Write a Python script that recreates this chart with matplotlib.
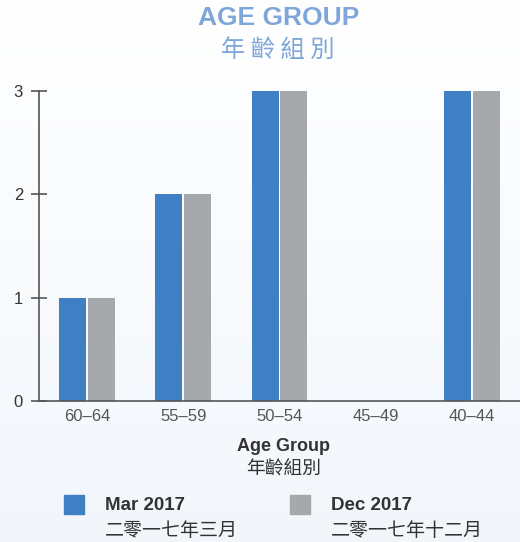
import numpy as np
import matplotlib.pyplot as plt

plt.rcParams['font.family'] = ['Liberation Sans', 'Noto Sans CJK TC', 'DejaVu Sans']

# data
groups = ['60–64', '55–59', '50–54', '45–49', '40–44']
mar_2017 = [1, 2, 3, 0, 3]
dec_2017 = [1, 2, 3, 0, 3]
series_en = ['Mar 2017', 'Dec 2017']
series_zh = ['二零一七年三月', '二零一七年十二月']

blue = '#3f7fc4'
grey = '#a7a8ab'
title_col = '#7fa6d9'
text_col = '#333333'

fig = plt.figure(figsize=(5.2, 5.42), dpi=100)

# soft background gradient, white at top to pale blue at bottom
bg = fig.add_axes([0, 0, 1, 1], zorder=-10)
grad = np.linspace(0, 1, 256).reshape(-1, 1)
top = np.array([1.0, 1.0, 1.0])
bot = np.array([0.95, 0.965, 0.985])
img = top + (bot - top) * grad[..., None]
bg.imshow(img, aspect='auto', extent=[0, 1, 0, 1], origin='upper')
bg.axis('off')

ax = fig.add_axes([0.075, 0.26, 0.925, 0.572])
ax.patch.set_alpha(0)

x = np.arange(len(groups))
w = 0.28
ax.bar(x - w / 2 - 0.01, mar_2017, width=w, color=blue)
ax.bar(x + w / 2 + 0.01, dec_2017, width=w, color=grey)

ax.set_xlim(-0.5, len(groups) - 0.5)
ax.set_ylim(0, 3)
ax.set_yticks([0, 1, 2, 3])
ax.set_xticks(x)
ax.set_xticklabels(groups)

for s in ['top', 'right']:
    ax.spines[s].set_visible(False)
for s in ['left', 'bottom']:
    ax.spines[s].set_color('#555555')
    ax.spines[s].set_linewidth(1.2)

ax.tick_params(axis='y', direction='inout', length=11, width=1.2, color='#555555',
               labelsize=12, labelcolor=text_col, pad=6)
ax.tick_params(axis='x', length=0, labelsize=12, labelcolor='#555555', pad=6)

# titles
fig.text(0.535, 0.966, 'AGE GROUP', ha='center', va='center', fontsize=19,
         fontweight='bold', color=title_col)
fig.text(0.535, 0.908, '年 齡 組 別', ha='center', va='center', fontsize=17.5,
         color=title_col, family=['Noto Sans CJK TC'])

# axis label
fig.text(0.545, 0.177, 'Age Group', ha='center', va='center', fontsize=13,
         fontweight='bold', color=text_col)
fig.text(0.545, 0.137, '年齡組別', ha='center', va='center', fontsize=13.5,
         color=text_col, family=['Noto Sans CJK TC'])

# legend
leg_x = [0.123, 0.558]
cols = [blue, grey]
for lx, c, en, zh in zip(leg_x, cols, series_en, series_zh):
    fig.patches.append(plt.Rectangle((lx, 0.052), 0.038, 0.034, color=c,
                                     transform=fig.transFigure, figure=fig))
    fig.text(lx + 0.079, 0.068, en, ha='left', va='center', fontsize=13.5,
             fontweight='bold', color=text_col)
    fig.text(lx + 0.079, 0.022, zh, ha='left', va='center', fontsize=13.7,
             color=text_col, family=['Noto Sans CJK TC'])

fig.savefig('out.png', dpi=100)
